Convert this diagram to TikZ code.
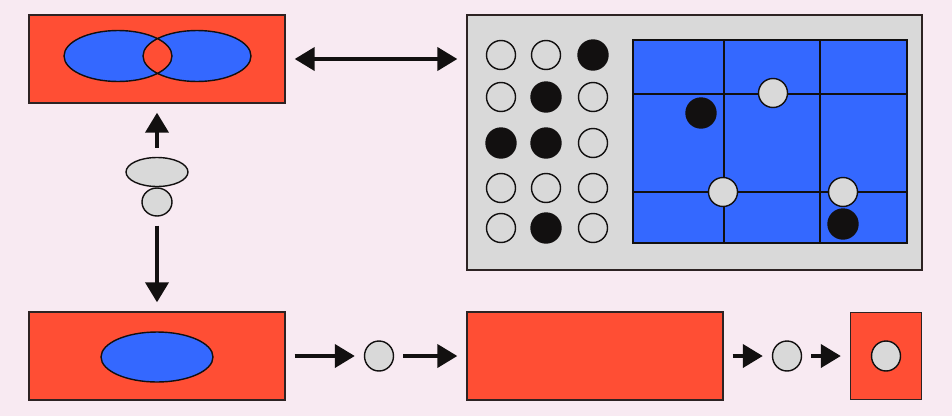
\documentclass[tikz,border=0pt]{standalone}
\usepackage{tikz}
\usetikzlibrary{arrows.meta,positioning,shapes.geometric}
\definecolor{bgPink}{RGB}{248,234,242}
\definecolor{boxRed}{RGB}{255,78,52}
\definecolor{blobBlue}{RGB}{52,104,255}
\definecolor{tokGray}{RGB}{217,217,217}
\definecolor{stoneBk}{RGB}{18,16,16}
\definecolor{edgeDk}{RGB}{45,35,35}

\begin{document}
\begin{tikzpicture}[x=0.02cm, y=-0.02cm,
  redbox/.style={draw=edgeDk, line width=0.8pt, fill=boxRed, inner sep=0pt},
  blob/.style={draw=stoneBk, line width=0.8pt, fill=blobBlue},
  token/.style={ellipse, draw=stoneBk, line width=0.8pt, fill=tokGray, inner sep=0pt, minimum width=0.58cm, minimum height=0.6cm},
  stoneW/.style={circle, draw=stoneBk, line width=0.8pt, fill=tokGray, inner sep=0pt, minimum size=0.58cm},
  stoneB/.style={circle, draw=stoneBk, line width=0.8pt, fill=stoneBk, inner sep=0pt, minimum size=0.6cm},
  arr/.style={-{Triangle[length=4mm, width=4.6mm]}, line width=0.08cm, stoneBk, shorten <=0.18cm, shorten >=0.18cm}
]
  \fill[bgPink] (0,0) rectangle (952,416);

  % top left: two overlapping blobs
  \node[redbox, minimum width=5.12cm, minimum height=1.76cm] (venn) at (157,59) {};
  \filldraw[blob, even odd rule] (118,56) ellipse [x radius=1.08cm, y radius=0.51cm]
    (197,56) ellipse [x radius=1.08cm, y radius=0.51cm];

  % tokens between the two left boxes
  \node[token, minimum width=1.24cm, minimum height=0.58cm] (tokA) at (157,172) {};
  \node[token, minimum width=0.6cm, minimum height=0.56cm] (tokB) at (157,202) {};

  % bottom row
  \node[redbox, minimum width=5.12cm, minimum height=1.76cm] (src) at (157,356) {};
  \node[blob, ellipse, minimum width=2.24cm, minimum height=1.0cm] (srcBlob) at (157,357) {};
  \node[token] (t1) at (379,356) {};
  \node[redbox, minimum width=5.12cm, minimum height=1.76cm] (proc) at (595,356) {};
  \node[token] (t2) at (787,356) {};
  \node[redbox, minimum width=1.42cm, minimum height=1.74cm] (out) at (886,356) {};
  \node[token] (t3) at (886,356) {};

  % board panel
  \node[draw=edgeDk, line width=0.8pt, fill=tokGray, minimum width=9.1cm, minimum height=5.1cm] (panel) at (694.5,142.5) {};
  \node[draw=stoneBk, line width=0.8pt, fill=blobBlue, minimum width=5.48cm, minimum height=4.06cm] (grid) at (770,141.5) {};
  \draw[stoneBk, line width=0.8pt] (724,40) -- (724,243) (820,40) -- (820,243)
    (633,94) -- (907,94) (633,192) -- (907,192);

  \foreach \x/\y/\c [count=\i] in {501/55/W, 546/55/W, 593/55/B,
      501/97/W, 546/97/B, 593/97/W,
      501/143/B, 546/143/B, 593/143/W,
      501/188/W, 546/188/W, 593/188/W,
      501/228/W, 546/228/B, 593/228/W}
    \node[stone\c] (st\i) at (\x,\y) {};

  \foreach \x/\y/\c [count=\i] in {701/113/B, 843/224/B, 773/93/W, 723/192/W, 843/192/W}
    \node[stone\c] (gs\i) at (\x,\y) {};

  % connectors
  \draw[arr, {Triangle[length=4mm, width=4.6mm]}-{Triangle[length=4mm, width=4.6mm]}] (venn.east) -- (venn.east -| panel.west);
  \draw[arr] (tokA) -- (venn);
  \draw[arr] (tokB) -- (src);
  \draw[arr] (src) -- (t1);
  \draw[arr] (t1) -- (proc);
  \draw[arr] (proc) -- (t2);
  \draw[arr] (t2) -- (out);
\end{tikzpicture}
\end{document}
